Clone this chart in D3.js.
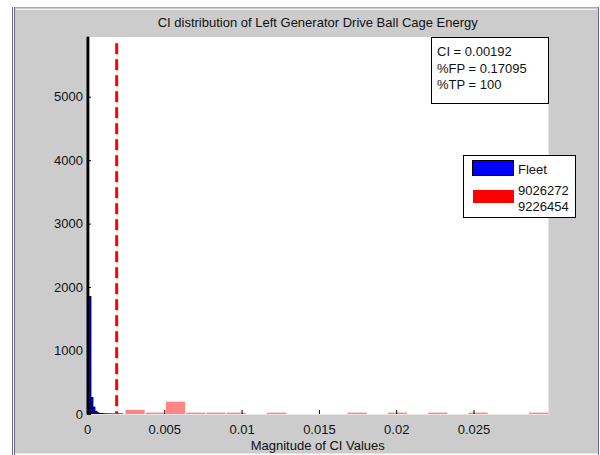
<!DOCTYPE html>
<html>
<head>
<meta charset="utf-8">
<script src="https://cdn.jsdelivr.net/npm/d3@7"></script>
<style>
  body { margin: 0; background: #ffffff; }
  text { font-family: "Liberation Sans", Arial, sans-serif; fill: #111; }
</style>
</head>
<body>
<div class="chart"></div>
<script>
// fleet histogram (narrow bins starting at 0)
var fleetStart = 0;
var fleetBinWidth = 0.00013;
var fleetCounts = [5940, 1850, 260, 110, 45, 20, 10, 6, 4, 3, 2, 2, 1, 1, 1, 1, 1, 1];

// tested vehicles 9026272 / 9226454
var redStart = 0.00246;
var redBinWidth = 0.001305;
var redCounts = [65, 22, 195, 22, 22, 22, 0, 22, 0, 0, 0, 22, 0, 22, 0, 22, 0, 22, 0, 0, 22];

var ciValue = 0.00192;
var xTicks = [0, 0.005, 0.01, 0.015, 0.02, 0.025];
var yTicks = [0, 1000, 2000, 3000, 4000, 5000];
var statLines = ["CI = 0.00192", "%FP = 0.17095", "%TP = 100"];
var legendNames = ["Fleet", "9026272\n9226454"];

var W = 600, H = 455;
var plot = { left: 87, right: 548.5, top: 37, bottom: 414 };

var svg = d3.select(".chart").append("svg")
    .attr("width", W)
    .attr("height", H);

// figure window
svg.append("rect").attr("x", 0).attr("y", 0).attr("width", W).attr("height", H).attr("fill", "#ffffff");
svg.append("rect").attr("x", 15).attr("y", 8).attr("width", 583).attr("height", 446).attr("fill", "#cccccc");
svg.append("line").attr("x1", 15).attr("x2", 598).attr("y1", 7.5).attr("y2", 7.5).attr("stroke", "#a8a8b8");
svg.append("line").attr("x1", 16).attr("x2", 597).attr("y1", 9.5).attr("y2", 9.5).attr("stroke", "#eeeeee");
svg.append("line").attr("x1", 12.5).attr("x2", 12.5).attr("y1", 7).attr("y2", H).attr("stroke", "#6a6a8c");
svg.append("line").attr("x1", 14.5).attr("x2", 14.5).attr("y1", 7).attr("y2", H).attr("stroke", "#6a6a8c");
svg.append("line").attr("x1", 598.5).attr("x2", 598.5).attr("y1", 7).attr("y2", H).attr("stroke", "#6a6a8c");
svg.append("line").attr("x1", 15).attr("x2", 598).attr("y1", 453.5).attr("y2", 453.5).attr("stroke", "#e4e4e4");

var x = d3.scaleLinear().domain([0, 0.02985]).range([plot.left, plot.right]);
var y = d3.scaleLinear().domain([0, 5940]).range([plot.bottom, plot.top]);

svg.append("rect")
    .attr("x", plot.left).attr("y", plot.top)
    .attr("width", plot.right - plot.left).attr("height", plot.bottom - plot.top)
    .attr("fill", "#ffffff");

// red bars (semi transparent)
svg.append("g").selectAll("rect")
    .data(redCounts)
    .enter()
    .append("rect")
    .attr("x", function(d, i) { return x(redStart + i * redBinWidth) + 0.5; })
    .attr("width", function(d, i) { return x(redStart + (i + 1) * redBinWidth) - x(redStart + i * redBinWidth) - 1; })
    .attr("y", function(d) { return y(d); })
    .attr("height", function(d) { return y(0) - y(d); })
    .attr("fill", "#ff0000")
    .attr("fill-opacity", 0.48);

// fleet bars
svg.append("g").selectAll("rect")
    .data(fleetCounts)
    .enter()
    .append("rect")
    .attr("x", function(d, i) { return x(fleetStart + i * fleetBinWidth); })
    .attr("width", function(d, i) { return x(fleetStart + (i + 1) * fleetBinWidth) - x(fleetStart + i * fleetBinWidth); })
    .attr("y", function(d) { return y(d); })
    .attr("height", function(d) { return y(0) - y(d); })
    .attr("fill", function(d, i) { return i === 0 ? "#000000" : "#0000ff"; })
    .attr("stroke", "#000000")
    .attr("stroke-width", 0.7);

// CI threshold
svg.append("line")
    .attr("x1", x(ciValue)).attr("x2", x(ciValue))
    .attr("y1", y(5840)).attr("y2", y(0))
    .attr("stroke", "#ff0000")
    .attr("stroke-width", 3)
    .attr("stroke-dasharray", "11,5");

// axes
var xAxis = svg.append("g")
    .attr("transform", "translate(0," + plot.bottom + ")")
    .call(d3.axisBottom(x)
        .tickValues(xTicks)
        .tickFormat(function(d) { return String(+d.toFixed(3)); })
        .tickSizeInner(-4)
        .tickSizeOuter(0)
        .tickPadding(11));
xAxis.select(".domain").attr("stroke", "#e8e8e8");
xAxis.selectAll(".tick line").attr("stroke", "#000");
xAxis.selectAll("text").style("font-size", "13px").attr("font-family", null);

var yAxis = svg.append("g")
    .attr("transform", "translate(" + plot.left + ",0)")
    .call(d3.axisLeft(y)
        .tickValues(yTicks)
        .tickFormat(d3.format("d"))
        .tickSizeInner(-4)
        .tickSizeOuter(0)
        .tickPadding(4));
yAxis.select(".domain").attr("stroke", "#000").attr("stroke-width", 1.5);
yAxis.selectAll(".tick line").attr("stroke", "#000");
yAxis.selectAll("text").style("font-size", "13px").attr("font-family", null);

// title and label
svg.append("text")
    .attr("x", (plot.left + plot.right) / 2)
    .attr("y", 27)
    .attr("text-anchor", "middle")
    .style("font-size", "13px")
    .text("CI distribution of Left Generator Drive Ball Cage Energy");

svg.append("text")
    .attr("x", (plot.left + plot.right) / 2)
    .attr("y", 450)
    .attr("text-anchor", "middle")
    .style("font-size", "13px")
    .text("Magnitude of CI Values");

// stats box
var stat = svg.append("g");
stat.append("rect")
    .attr("x", 431.5).attr("y", 37.5).attr("width", 117).attr("height", 66)
    .attr("fill", "#ffffff").attr("stroke", "#000");
stat.selectAll("text")
    .data(statLines)
    .enter()
    .append("text")
    .attr("x", 437)
    .attr("y", function(d, i) { return 56 + i * 16.5; })
    .style("font-size", "13px")
    .text(function(d) { return d; });

// legend
var leg = svg.append("g");
leg.append("rect")
    .attr("x", 463.5).attr("y", 155.5).attr("width", 112).attr("height", 62)
    .attr("fill", "#ffffff").attr("stroke", "#000");
leg.append("rect")
    .attr("x", 472.5).attr("y", 160.5).attr("width", 41).attr("height", 15)
    .attr("fill", "#0000ff").attr("stroke", "#000");
leg.append("rect")
    .attr("x", 473).attr("y", 190).attr("width", 41).attr("height", 13)
    .attr("fill", "#ff0000");
leg.append("text").attr("x", 518).attr("y", 174).style("font-size", "13px").text(legendNames[0]);
legendNames[1].split("\n").forEach(function(s, i) {
    leg.append("text").attr("x", 518).attr("y", 195 + i * 15.5).style("font-size", "13px").text(s);
});
</script>
</body>
</html>
